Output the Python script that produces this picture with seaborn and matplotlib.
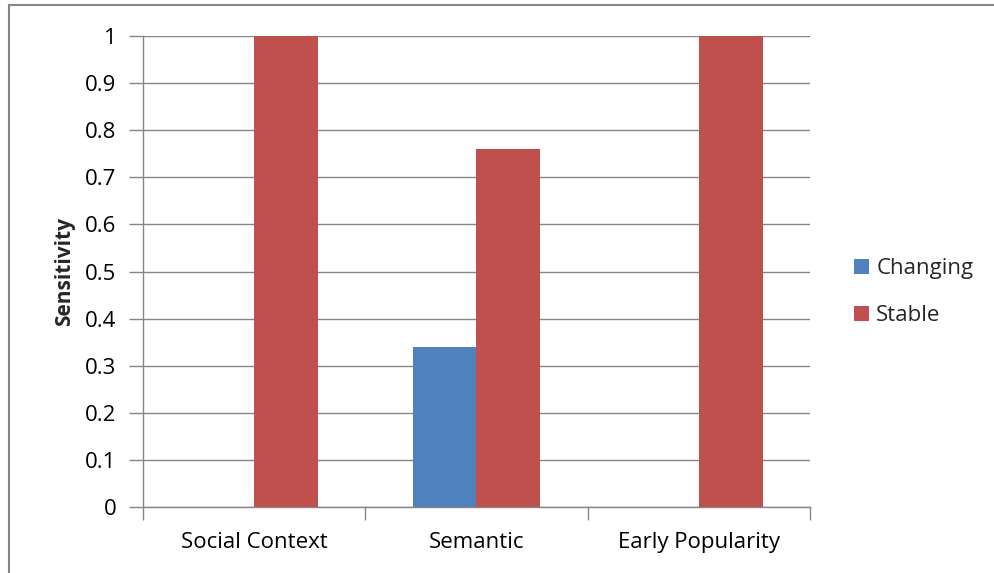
import matplotlib
matplotlib.use("Agg")
import matplotlib.pyplot as plt
import seaborn as sns
import pandas as pd
from matplotlib.patches import Rectangle, Patch

categories = ["Social Context", "Semantic", "Early Popularity"]
series_names = ["Changing", "Stable"]
changing = [0.0, 0.34, 0.0]
stable = [1.0, 0.76, 1.0]
y_ticks = [0, 0.1, 0.2, 0.3, 0.4, 0.5, 0.6, 0.7, 0.8, 0.9, 1]
y_tick_labels = ["0", "0.1", "0.2", "0.3", "0.4", "0.5", "0.6", "0.7", "0.8", "0.9", "1"]

colors = {"Changing": "#4F81BD", "Stable": "#C0504D"}
grid_color = "#868686"

df = pd.DataFrame({
    "category": categories * 2,
    "series": [series_names[0]] * 3 + [series_names[1]] * 3,
    "value": changing + stable,
})

sns.set_theme(style="white", rc={"xtick.bottom": True, "ytick.left": True})
plt.rcParams["font.family"] = ["Open Sans", "DejaVu Sans"]
FS = 16

W, H = 995, 573
fig = plt.figure(figsize=(W / 100, H / 100), dpi=100)
ax = fig.add_axes([143 / W, 1 - 507 / H, (810 - 143) / W, (507 - 36) / H])

sns.barplot(data=df, x="category", y="value", hue="series", order=categories,
            hue_order=series_names, palette=colors, width=0.573, gap=0,
            linewidth=0, saturation=1, legend=False, ax=ax, zorder=3)

ax.set_xlim(-0.5, 2.5)
ax.set_ylim(0, 1)
ax.set_yticks(y_ticks)
ax.set_yticklabels(y_tick_labels)
ax.set_xticks([0, 1, 2])
ax.set_xticklabels(categories)
ax.tick_params(axis="y", which="major", left=True, length=10, width=1,
               color=grid_color, direction="out", labelsize=FS, pad=9,
               labelcolor="black")
ax.tick_params(axis="x", which="major", length=0, labelsize=FS, pad=18,
               labelcolor="black")
ax.set_xticks([-0.5, 0.5, 1.5, 2.5], minor=True)
ax.tick_params(axis="x", which="minor", bottom=True, length=9, width=1,
               color=grid_color, direction="out")
ax.grid(axis="y", color=grid_color, linewidth=1, zorder=0)
ax.set_axisbelow(True)
for side in ["top", "right"]:
    ax.spines[side].set_visible(False)
for side in ["left", "bottom"]:
    ax.spines[side].set_color(grid_color)
    ax.spines[side].set_linewidth(1)
    ax.spines[side].set_zorder(4)
ax.set_xlabel("")
ax.set_ylabel("Sensitivity", fontsize=15, fontweight="bold", labelpad=7)

handles = [Patch(facecolor=colors[s], edgecolor="none") for s in series_names]
fig.legend(handles, series_names, loc="center left",
           bbox_to_anchor=(834 / W, 1 - 292 / H), frameon=False,
           fontsize=FS, handlelength=0.68, handleheight=0.68,
           handletextpad=0.32, labelspacing=1.17)

fig.patches.append(Rectangle((9 / W, -0.1), 1.2, 1 - 5 / H + 0.1,
                             transform=fig.transFigure, fill=False,
                             edgecolor=grid_color, linewidth=1.5))

fig.savefig("out.png", dpi=100, facecolor="white")
